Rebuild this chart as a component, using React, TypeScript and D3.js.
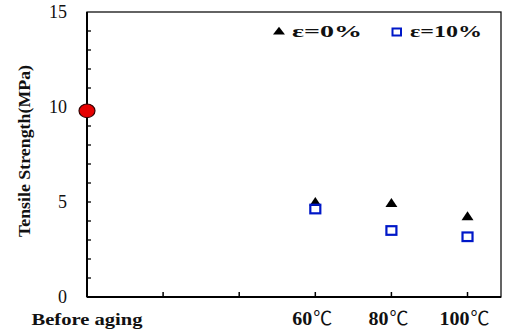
import React from "react";
import * as d3 from "d3";

const categories = ["Before aging", "60", "80", "100"];
const categoryPos = [0, 3, 4, 5];
const beforeAging = [9.8];
const strain0 = [4.95, 4.9, 4.2];
const strain10 = [4.63, 3.5, 3.17];
const yTicks = [0, 5, 10, 15];
const legendLabels = ["ε=0%", "ε=10%"];

const W = 506;
const H = 331;
const m = { left: 87, top: 12, right: 5, bottom: 34 };
const serif = "Liberation Serif, Times New Roman, serif";
const cjk = "Noto Sans CJK SC, sans-serif";

// triangle marker, slightly squashed vertically
const triPath = d3.symbol().type(d3.symbolTriangle).size(62)() as string;

export default function App() {
  const x = d3.scaleLinear().domain([0, 5.44]).range([m.left, W - m.right]);
  const y = d3.scaleLinear().domain([0, 15]).range([H - m.bottom, m.top]);
  const minor = d3.range(1, 15, 1);
  const xTicks = [1, 2, 3, 4, 5];
  const labelWidths = [111, 40, 38, 50];
  return (
    <svg width={W} height={H} style={{ position: "absolute", left: 0, top: 0 }}>
      <rect x={0} y={0} width={W} height={H} fill="white" />
      {/* frame */}
      <rect x={x(0)} y={y(15)} width={x(5.44) - x(0)} height={y(0) - y(15)} fill="none" stroke="#111" strokeWidth={1.3} />
      <line x1={x(0)} x2={x(0)} y1={y(15)} y2={y(0)} stroke="#000" strokeWidth={2} />
      <line x1={x(0)} x2={x(5.44)} y1={y(0)} y2={y(0)} stroke="#000" strokeWidth={2} />
      {/* y ticks */}
      {minor.map((v) => (
        <line key={v} x1={x(0)} x2={x(0) + 4} y1={y(v)} y2={y(v)} stroke="#000" strokeWidth={1.3} />
      ))}
      {yTicks.map((v) => (
        <text key={v} x={67} y={y(v) + 6} textAnchor="end" fontFamily={serif} fontSize={18} fill="#111">
          {v}
        </text>
      ))}
      {/* x ticks */}
      {xTicks.map((v) => (
        <line key={v} x1={x(v)} x2={x(v)} y1={y(0)} y2={y(0) - 5} stroke="#000" strokeWidth={1.5} />
      ))}
      {categories.map((c, i) =>
        i === 0 ? (
          <text
            key={c}
            x={x(categoryPos[i]) - labelWidths[i] / 2}
            y={325}
            textLength={labelWidths[i]}
            lengthAdjust="spacingAndGlyphs"
            fontFamily={serif}
            fontWeight="bold"
            fontSize={17}
            fill="#111"
          >
            {c}
          </text>
        ) : (
          <text key={c} x={x(categoryPos[i]) - 3} y={325} textAnchor="middle" fill="#111">
            <tspan fontFamily={serif} fontWeight="bold" fontSize={18} textLength={c.length * 10} lengthAdjust="spacingAndGlyphs">
              {c}
            </tspan>
            <tspan fontFamily={cjk} fontSize={19} dx={1}>
              ℃
            </tspan>
          </text>
        )
      )}
      <text
        transform={`translate(30,151) rotate(-90)`}
        x={-86}
        textLength={172}
        lengthAdjust="spacingAndGlyphs"
        fontFamily={serif}
        fontWeight="bold"
        fontSize={17}
        fill="#111"
      >
        Tensile Strength(MPa)
      </text>
      {/* data */}
      {beforeAging.map((v, i) => (
        <ellipse key={i} cx={x(0)} cy={y(v)} rx={8} ry={6.8} fill="#e60000" stroke="#300" strokeWidth={1.2} />
      ))}
      {strain0.map((v, i) => (
        <path key={i} d={triPath} transform={`translate(${x(categoryPos[i + 1])},${y(v)}) scale(1,0.87)`} fill="#000" />
      ))}
      {strain10.map((v, i) => (
        <rect key={i} x={x(categoryPos[i + 1]) - 5} y={y(v) - 4.3} width={10} height={8.6} fill="none" stroke="#0018c8" strokeWidth={2.2} />
      ))}
      {/* legend */}
      <path d={triPath} transform={`translate(279,32) scale(1,0.75)`} fill="#000" />
      <text x={292} y={37} textLength={70} lengthAdjust="spacingAndGlyphs" fontFamily={serif} fontWeight="bold" fontSize={17} fill="#111">
        {legendLabels[0]}
      </text>
      <rect x={392.5} y={28.5} width={8.5} height={7} fill="none" stroke="#0018c8" strokeWidth={2} />
      <text x={410} y={37} textLength={72} lengthAdjust="spacingAndGlyphs" fontFamily={serif} fontWeight="bold" fontSize={17} fill="#111">
        {legendLabels[1]}
      </text>
    </svg>
  );
}
